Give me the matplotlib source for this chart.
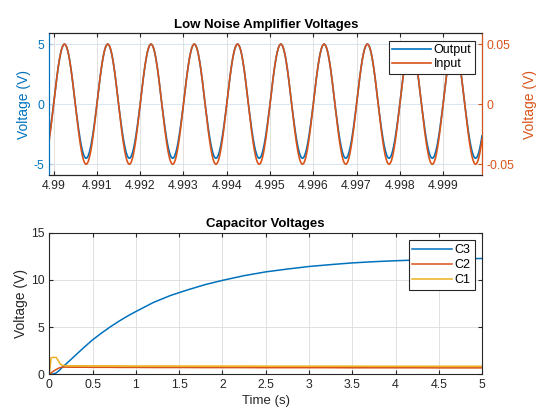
import numpy as np
import matplotlib
matplotlib.use("Agg")
import matplotlib.pyplot as plt

plt.rcParams['font.family'] = ['Liberation Sans', 'DejaVu Sans']
plt.rcParams['font.size'] = 8
plt.rcParams['axes.unicode_minus'] = False

BLUE = '#0072BD'
ORANGE = '#D95319'
YELLOW = '#EDB120'

# --- amplifier signals (last 10 ms of the run) ---
t_start, t_end = 4.9899, 4.9999
sig_freq = 1000.0          # Hz
out_peak_pos = 5.0         # V, output positive peak
out_peak_neg = 4.5         # V, output negative peak (clipped side)
in_peak = 0.05             # V, input amplitude
t_phase = 4.99             # rising zero crossing

top_xticks = [4.99, 4.991, 4.992, 4.993, 4.994, 4.995, 4.996, 4.997, 4.998, 4.999]
top_xlabels = ['4.99', '4.991', '4.992', '4.993', '4.994', '4.995', '4.996', '4.997', '4.998', '4.999']

# --- capacitor voltages ---
t_cap = [0, 0.02, 0.05, 0.08, 0.1, 0.125, 0.15, 0.2, 0.3, 0.4, 0.5, 0.6, 0.7, 0.8, 0.9, 1.0,
         1.2, 1.4, 1.6, 1.8, 2.0, 2.25, 2.5, 2.75, 3.0, 3.25, 3.5, 3.75, 4.0, 4.25, 4.5, 4.75, 5.0]
c3 = [0, 0.01, 0.05, 0.15, 0.3, 0.5, 0.75, 1.15, 2.0, 2.85, 3.65, 4.35, 5.0, 5.6, 6.15, 6.65,
      7.6, 8.35, 8.95, 9.5, 9.95, 10.45, 10.85, 11.15, 11.42, 11.62, 11.8, 11.93, 12.03, 12.11, 12.17, 12.23, 12.27]
c2 = [0, 0.15, 0.35, 0.52, 0.62, 0.72, 0.76, 0.76, 0.75, 0.75, 0.74, 0.74, 0.74, 0.73, 0.73, 0.73,
      0.72, 0.72, 0.72, 0.71, 0.71, 0.71, 0.70, 0.70, 0.70, 0.70, 0.69, 0.69, 0.69, 0.69, 0.68, 0.68, 0.68]
c1 = [0, 1.75, 1.8, 1.78, 1.5, 1.1, 0.95, 0.9, 0.9, 0.9, 0.89, 0.89, 0.89, 0.89, 0.88, 0.88,
      0.88, 0.88, 0.87, 0.87, 0.87, 0.87, 0.86, 0.86, 0.86, 0.86, 0.86, 0.85, 0.85, 0.85, 0.85, 0.85, 0.85]
c1_ripple = 0.1            # V, half width of the 1 kHz ripple band after start-up
c1_ripple_start = 0.15

t = np.linspace(t_start, t_end, 2000)
s = np.sin(2 * np.pi * sig_freq * (t - t_phase))
v_out = np.where(s > 0, out_peak_pos * s, out_peak_neg * s)
v_in = in_peak * s

fig = plt.figure(figsize=(5.53, 4.18), dpi=100)

# ---------------- top: LNA voltages ----------------
ax1 = fig.add_axes([0.0892, 0.5813, 0.7825, 0.339])
ax1r = ax1.twinx()
l1, = ax1.plot(t, v_out, color=BLUE, lw=1.2, label='Output')
l2, = ax1r.plot(t, v_in, color=ORANGE, lw=1.2, label='Input')
ax1.set_xlim(t_start, t_end)
ax1.set_ylim(-5.9, 5.9)
ax1r.set_ylim(-0.059, 0.059)
ax1.set_xticks(top_xticks)
ax1.set_xticklabels(top_xlabels)
ax1.set_yticks([-5, 0, 5])
ax1r.set_yticks([-0.05, 0, 0.05])
ax1r.set_yticklabels(['-0.05', '0', '0.05'])
ax1.xaxis.grid(True, color='#dcdcdc', lw=0.6)
ax1r.yaxis.grid(True, color='#cfe3f1', lw=0.6)
ax1.set_axisbelow(True)
ax1.set_ylabel('Voltage (V)', color=BLUE, fontsize=10, labelpad=2)
ax1r.set_ylabel('Voltage (V)', color=ORANGE, fontsize=10, labelpad=6)
ax1.set_title('Low Noise Amplifier Voltages', fontweight='bold', fontsize=9.5, pad=4)
ax1.tick_params(axis='y', colors=BLUE, direction='in', length=3, labelsize=8.8)
ax1r.tick_params(axis='y', colors=ORANGE, direction='in', length=3, labelsize=8.8)
ax1.tick_params(axis='x', direction='in', length=3, top=True, colors='#262626', labelsize=8.8)
ax1.spines['left'].set_color(BLUE)
ax1r.spines['left'].set_color(BLUE)
ax1r.spines['right'].set_color(ORANGE)
for sp in ['top', 'bottom']:
    ax1r.spines[sp].set_color('#262626')
for sp in ax1r.spines.values():
    sp.set_linewidth(0.8)
leg1 = ax1r.legend(handles=[l1, l2], loc='upper right', fontsize=9, fancybox=False,
                   edgecolor='#262626', framealpha=1, borderpad=0.25, handlelength=3.1,
                   handletextpad=0.2, labelspacing=0.2, borderaxespad=0.6)
leg1.get_frame().set_linewidth(0.8)

# ---------------- bottom: capacitor voltages ----------------
ax2 = fig.add_axes([0.0892, 0.1045, 0.7825, 0.3388])
c1_arr = np.array(c1)
t_arr = np.array(t_cap)
band = t_arr >= c1_ripple_start
ax2.fill_between(t_arr[band], c1_arr[band] - c1_ripple, c1_arr[band] + c1_ripple,
                 color=YELLOW, alpha=0.45, lw=0)
ax2.plot(t_cap, c3, color=BLUE, lw=1.1, label='C3')
ax2.plot(t_cap, c2, color=ORANGE, lw=1.1, label='C2')
ax2.plot(t_cap, c1, color=YELLOW, lw=1.1, label='C1')
ax2.set_xlim(0, 5)
ax2.set_ylim(0, 15)
ax2.set_xticks(np.arange(0, 5.01, 0.5))
ax2.set_xticklabels(['0', '0.5', '1', '1.5', '2', '2.5', '3', '3.5', '4', '4.5', '5'])
ax2.set_yticks([0, 5, 10, 15])
ax2.grid(True, color='#dcdcdc', lw=0.6)
ax2.set_axisbelow(True)
ax2.tick_params(direction='in', length=3, top=True, right=True, colors='#262626', labelsize=8.8)
for sp in ax2.spines.values():
    sp.set_color('#262626')
    sp.set_linewidth(0.8)
ax2.set_xlabel('Time (s)', fontsize=9.5, color='#262626', labelpad=3)
ax2.set_ylabel('Voltage (V)', fontsize=10, color='#262626', labelpad=2)
ax2.set_title('Capacitor Voltages', fontweight='bold', fontsize=9.5, pad=4)
leg2 = ax2.legend(loc='upper right', fontsize=9, fancybox=False, edgecolor='#262626',
                  framealpha=1, borderpad=0.3, handlelength=3.2, handletextpad=0.2,
                  labelspacing=0.25, borderaxespad=0.6)
leg2.get_frame().set_linewidth(0.8)

fig.savefig('out.png', dpi=100)
